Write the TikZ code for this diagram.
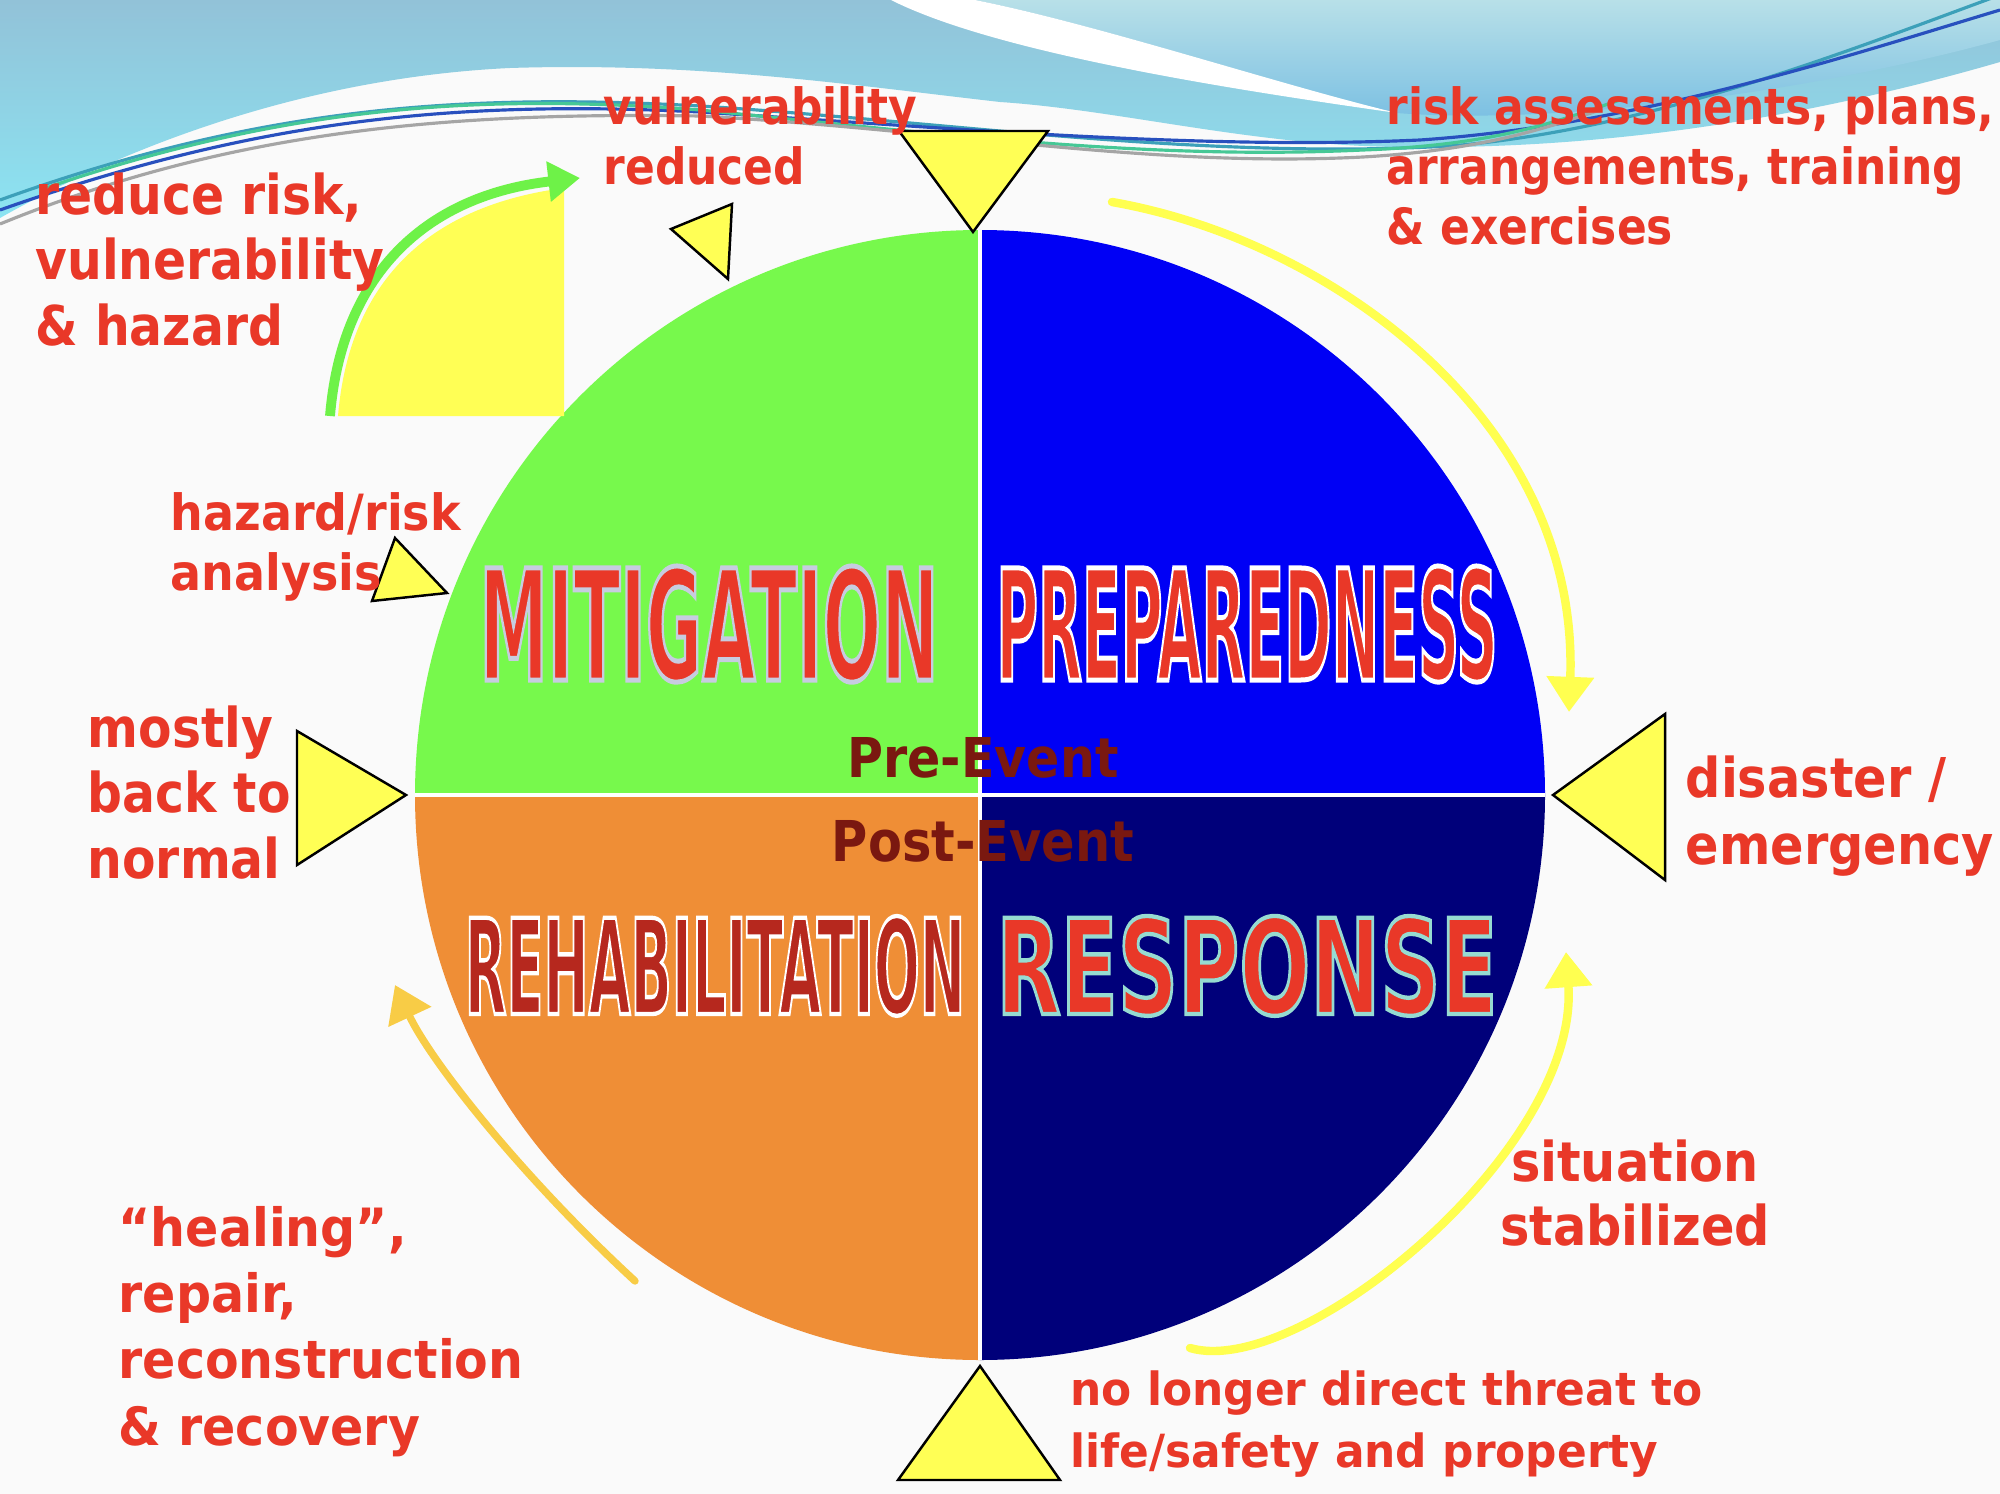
\documentclass[tikz,border=0pt]{standalone}
\usepackage{fontspec}
\setmainfont{DejaVu Sans}
\usetikzlibrary{arrows.meta, positioning}
\definecolor{txtred}{RGB}{233,56,40}
\definecolor{darkred}{RGB}{182,40,30}
\definecolor{evtmaroon}{RGB}{122,24,16}
\definecolor{mitgreen}{RGB}{119,249,76}
\definecolor{prepblue}{RGB}{0,0,245}
\definecolor{rehaborange}{RGB}{239,142,54}
\definecolor{respnavy}{RGB}{0,0,122}
\definecolor{triyellow}{RGB}{255,255,85}
\definecolor{arcyellow}{RGB}{255,255,80}
\definecolor{arcgold}{RGB}{248,204,70}
\definecolor{arrgreen}{RGB}{110,242,72}
\definecolor{skytop}{RGB}{146,194,216}
\definecolor{skybot}{RGB}{140,228,242}
\definecolor{skylight}{RGB}{184,224,232}
\definecolor{skydeep}{RGB}{120,190,226}
\definecolor{paper}{RGB}{250,250,250}
\newcommand{\bigword}[4]{\resizebox{#1}{#2}{\special{pdf:literal direct 2 Tr #3 RG 1.3 w}#4\special{pdf:literal direct 0 Tr}}}

\begin{document}
\begin{tikzpicture}[x=0.01cm, y=-0.01cm,
    lbl/.style={text=txtred, inner sep=0pt, align=left, anchor=base west, transform shape,
      font=\bfseries\fontsize{15.6}{18.6}\selectfont},
    tri/.style={draw=black, fill=triyellow, line width=0.7pt, line join=miter},
    cyc/.style={line width=2.4pt, line cap=round, -{Triangle[width=13pt, length=10pt]}},
    big/.style={anchor=base, inner sep=0pt, font=\bfseries\fontsize{40}{40}\selectfont},
    evt/.style={anchor=base, inner sep=0pt, text=evtmaroon, font=\bfseries\fontsize{15.6}{18}\selectfont},
    strand/.style={line width=0.9pt}]
\useasboundingbox (0,0) rectangle (2000,1494);
\fill[paper] (0,0) rectangle (2000,1494);

% sky and swoosh
\shade[top color=skytop, bottom color=skybot] (0,0) -- (2000,0) -- (2000,62)
  .. controls (1800,120) and (1600,150) .. (1397,147)
  .. controls (1250,145) and (1120,110) .. (1000,102)
  .. controls (850,85) and (700,62) .. (510,68)
  .. controls (300,78) and (120,150) .. (0,218) -- cycle;
\shade[top color=skylight, bottom color=skydeep] (975,0) -- (2000,0) -- (2000,40)
  .. controls (1800,95) and (1550,125) .. (1397,113)
  .. controls (1280,85) and (1100,25) .. (975,0) -- cycle;
\fill[white] (891,0) -- (975,0) .. controls (1100,25) and (1280,85) .. (1397,113)
  .. controls (1250,92) and (1000,55) .. (891,0) -- cycle;
\draw[strand, color={rgb,255:red,60;green,160;blue,185}] (0,200) .. controls (250,110) and (450,92) .. (700,106)
  .. controls (950,122) and (1200,160) .. (1450,146) .. controls (1650,130) and (1850,50) .. (2000,-5);
\draw[strand, color={rgb,255:red,40;green,80;blue,190}] (0,210) .. controls (260,118) and (460,100) .. (700,112)
  .. controls (950,128) and (1200,150) .. (1420,140) .. controls (1640,125) and (1850,55) .. (2000,10);
\draw[strand, color={rgb,255:red,70;green,200;blue,150}] (40,190) .. controls (300,100) and (500,95) .. (700,110)
  .. controls (950,135) and (1150,160) .. (1363,150) .. controls (1500,145) and (1560,120) .. (1620,100);
\draw[strand, color={rgb,255:red,165;green,165;blue,165}] (0,224) .. controls (230,130) and (450,112) .. (700,116)
  .. controls (950,130) and (1150,168) .. (1363,157) .. controls (1480,150) and (1540,130) .. (1600,110);

% circle quadrants
\coordinate (O) at (980,795);
\coordinate (T) at (980,230);
\coordinate (B) at (980,1360);
\coordinate (L) at (415,795);
\coordinate (R) at (1545,795);
\fill[mitgreen] (O) -- (L) arc[start angle=180, end angle=270, radius=565] -- cycle;
\fill[prepblue] (O) -- (T) arc[start angle=270, end angle=360, radius=565] -- cycle;
\fill[respnavy] (O) -- (R) arc[start angle=0, end angle=90, radius=565] -- cycle;
\fill[rehaborange] (O) -- (B) arc[start angle=90, end angle=180, radius=565] -- cycle;
\draw[white, line width=1.2pt] (T) -- (B);
\draw[white, line width=1.2pt] (L) -- (R);

% triangles
\draw[tri] (899,131) -- (1048,131) -- (973,232) -- cycle;
\draw[tri] (1553,795) -- (1665,714) -- (1665,880) -- cycle;
\draw[tri] (297,731) -- (297,865) -- (406,795) -- cycle;
\draw[tri] (980,1366) -- (1060,1480) -- (898,1480) -- cycle;
\draw[tri] (395,538) -- (447,593) -- (372,601) -- cycle;
\draw[tri] (732,204) -- (728,279) -- (671,229) -- cycle;

% yellow patch and green arrow
\coordinate (G1) at (330,416);
\coordinate (G2) at (580,178);
\fill[triyellow] (338,416) .. controls (350,275) and (435,205) .. (564,188) -- (564,416) -- cycle;
\draw[arrgreen, line width=2.8pt, -{Triangle[width=11pt, length=9pt]}] (G1) .. controls (342,270) and (430,195) .. (G2);

% cycle arrows
\coordinate (A1) at (1112,202);
\coordinate (A2) at (1569,712);
\coordinate (B1) at (1190,1348);
\coordinate (B2) at (1566,952);
\coordinate (C1) at (635,1281);
\coordinate (C2) at (395,985);
\draw[cyc, arcyellow] (A1) .. controls (1330,240) and (1580,420) .. (A2);
\draw[cyc, arcyellow] (B1) .. controls (1300,1380) and (1580,1150) .. (B2);
\draw[cyc, arcgold, line width=2.1pt] (C1) .. controls (520,1175) and (430,1060) .. (C2);

% phase names
\node[big, text=txtred] (mit) at (709,680) {\bigword{4.59cm}{1.14cm}{0.78 0.8 0.88}{MITIGATION}};
\node[big, text=txtred] (prep) at (1247,680) {\bigword{5.01cm}{1.14cm}{1 1 1}{PREPAREDNESS}};
\node[big, text=darkred] (rehab) at (715,1014) {\bigword{5.00cm}{0.98cm}{1 1 1}{REHABILITATION}};
\node[big, text=txtred] (resp) at (1247,1014) {\bigword{5.01cm}{0.98cm}{0.59 0.86 0.82}{RESPONSE}};
\node[evt] (pre) at (983,777) {\resizebox{2.71cm}{0.40cm}{Pre-Event}};
\node[evt] (post) at (983,861) {\resizebox{3.02cm}{0.41cm}{Post-Event}};

% labels
\node[lbl, xscale=0.89] (reduce) at (35,345) {reduce risk,\\vulnerability\\\& hazard};
\node[lbl, xscale=0.88, font=\bfseries\fontsize{14.2}{17.1}\selectfont] (vulred) at (603,185) {vulnerability\\reduced};
\node[lbl, xscale=0.88, font=\bfseries\fontsize{14.2}{17.1}\selectfont] (plans) at (1386,245) {risk assessments, plans,\\arrangements, training\\\& exercises};
\node[lbl, xscale=0.92, font=\bfseries\fontsize{14.2}{16.8}\selectfont] (hazard) at (170,590) {hazard/risk\\analysis};
\node[lbl, xscale=0.89] (normal) at (87,878) {mostly\\back to\\normal};
\node[lbl, xscale=0.9, font=\bfseries\fontsize{15.6}{19}\selectfont] (disaster) at (1685,864) {disaster /\\emergency};
\node[lbl, xscale=0.9, anchor=base, align=center, font=\bfseries\fontsize{15.6}{18.2}\selectfont] (stable) at (1635,1245) {situation\\stabilized};
\node[lbl, xscale=0.93, font=\bfseries\fontsize{15}{18.8}\selectfont] (healing) at (118,1445) {“healing”,\\repair,\\reconstruction\\\& recovery};
\node[lbl, xscale=0.96, font=\bfseries\fontsize{13}{17.6}\selectfont] (threat) at (1070,1467) {no longer direct threat to\\life/safety and property};
\end{tikzpicture}
\end{document}
